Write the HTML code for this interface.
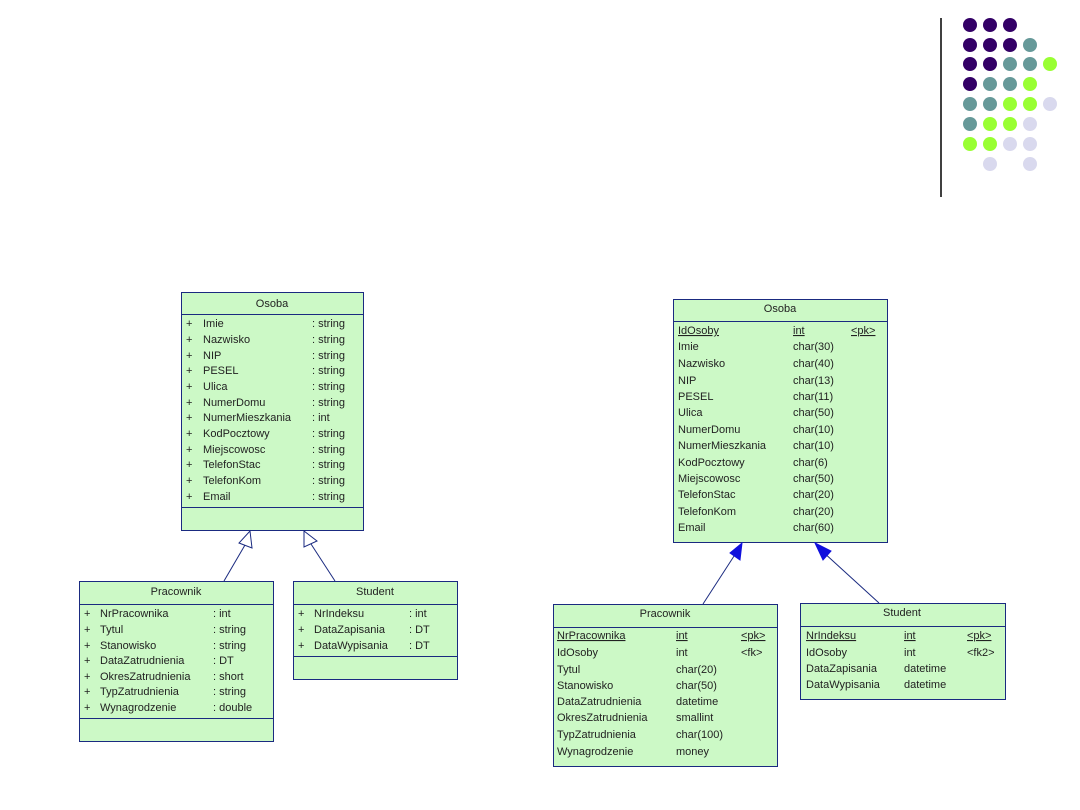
<!DOCTYPE html>
<html><head><meta charset="utf-8"><style>
html,body{margin:0;padding:0;background:#fff;}
svg{display:block;}
text{font-family:"Liberation Sans",sans-serif;font-size:11px;fill:#222;}
</style></head><body>
<svg width="1080" height="810" viewBox="0 0 1080 810" xmlns="http://www.w3.org/2000/svg">
<rect width="1080" height="810" fill="#fff"/>
<line x1="941" y1="18" x2="941" y2="197" stroke="#000" stroke-width="1.5"/>
<g>
<circle cx="970" cy="25" r="7" fill="#330066"/><circle cx="990" cy="25" r="7" fill="#330066"/><circle cx="1010" cy="25" r="7" fill="#330066"/>
<circle cx="970" cy="45" r="7" fill="#330066"/><circle cx="990" cy="45" r="7" fill="#330066"/><circle cx="1010" cy="45" r="7" fill="#330066"/><circle cx="1030" cy="45" r="7" fill="#669999"/>
<circle cx="970" cy="64" r="7" fill="#330066"/><circle cx="990" cy="64" r="7" fill="#330066"/><circle cx="1010" cy="64" r="7" fill="#669999"/><circle cx="1030" cy="64" r="7" fill="#669999"/><circle cx="1050" cy="64" r="7" fill="#99ff33"/>
<circle cx="970" cy="84" r="7" fill="#330066"/><circle cx="990" cy="84" r="7" fill="#669999"/><circle cx="1010" cy="84" r="7" fill="#669999"/><circle cx="1030" cy="84" r="7" fill="#99ff33"/>
<circle cx="970" cy="104" r="7" fill="#669999"/><circle cx="990" cy="104" r="7" fill="#669999"/><circle cx="1010" cy="104" r="7" fill="#99ff33"/><circle cx="1030" cy="104" r="7" fill="#99ff33"/><circle cx="1050" cy="104" r="7" fill="#d9d9ee"/>
<circle cx="970" cy="124" r="7" fill="#669999"/><circle cx="990" cy="124" r="7" fill="#99ff33"/><circle cx="1010" cy="124" r="7" fill="#99ff33"/><circle cx="1030" cy="124" r="7" fill="#d9d9ee"/>
<circle cx="970" cy="144" r="7" fill="#99ff33"/><circle cx="990" cy="144" r="7" fill="#99ff33"/><circle cx="1010" cy="144" r="7" fill="#d9d9ee"/><circle cx="1030" cy="144" r="7" fill="#d9d9ee"/>
<circle cx="990" cy="164" r="7" fill="#d9d9ee"/><circle cx="1030" cy="164" r="7" fill="#d9d9ee"/>
</g>

<g stroke="#1a2a80" stroke-width="1" fill="#ccf9c6">
<!-- left -->
<rect x="181.5" y="292.5" width="182" height="238"/>
<line x1="181" y1="314.5" x2="364" y2="314.5"/><line x1="181" y1="507.5" x2="364" y2="507.5"/>
<rect x="79.5" y="581.5" width="194" height="160"/>
<line x1="79" y1="604.5" x2="274" y2="604.5"/><line x1="79" y1="718.5" x2="274" y2="718.5"/>
<rect x="293.5" y="581.5" width="164" height="98"/>
<line x1="293" y1="604.5" x2="458" y2="604.5"/><line x1="293" y1="656.5" x2="458" y2="656.5"/>
<!-- right -->
<rect x="673.5" y="299.5" width="214" height="243"/>
<line x1="673" y1="321.5" x2="888" y2="321.5"/>
<rect x="553.5" y="604.5" width="224" height="162"/>
<line x1="553" y1="627.5" x2="778" y2="627.5"/>
<rect x="800.5" y="603.5" width="205" height="96"/>
<line x1="800" y1="626.5" x2="1006" y2="626.5"/>
</g>

<g stroke="#1a2a80" stroke-width="1" fill="#fff">
<line x1="224" y1="581" x2="245" y2="545"/>
<polygon points="250,531 252,548 239,543"/>
<line x1="335" y1="581" x2="311" y2="544"/>
<polygon points="304,531 317,541 304,547"/>
<line x1="703" y1="604" x2="736" y2="553"/>
<line x1="879" y1="603" x2="822" y2="551"/>
</g>
<g fill="#1010dd" stroke="#1010dd">
<polygon points="742,543 740,560 730,553"/>
<polygon points="815,543 831,551 823,560"/>
</g>

<!-- left Osoba -->
<text x="272" y="307" text-anchor="middle">Osoba</text>
<g>
<text x="186" y="327">+</text><text x="203" y="327">Imie</text><text x="312" y="327">: string</text>
<text x="186" y="343">+</text><text x="203" y="343">Nazwisko</text><text x="312" y="343">: string</text>
<text x="186" y="359">+</text><text x="203" y="359">NIP</text><text x="312" y="359">: string</text>
<text x="186" y="374">+</text><text x="203" y="374">PESEL</text><text x="312" y="374">: string</text>
<text x="186" y="390">+</text><text x="203" y="390">Ulica</text><text x="312" y="390">: string</text>
<text x="186" y="406">+</text><text x="203" y="406">NumerDomu</text><text x="312" y="406">: string</text>
<text x="186" y="421">+</text><text x="203" y="421">NumerMieszkania</text><text x="312" y="421">: int</text>
<text x="186" y="437">+</text><text x="203" y="437">KodPocztowy</text><text x="312" y="437">: string</text>
<text x="186" y="453">+</text><text x="203" y="453">Miejscowosc</text><text x="312" y="453">: string</text>
<text x="186" y="468">+</text><text x="203" y="468">TelefonStac</text><text x="312" y="468">: string</text>
<text x="186" y="484">+</text><text x="203" y="484">TelefonKom</text><text x="312" y="484">: string</text>
<text x="186" y="500">+</text><text x="203" y="500">Email</text><text x="312" y="500">: string</text>
</g>
<!-- left Pracownik -->
<text x="176" y="595" text-anchor="middle">Pracownik</text>
<text x="84" y="617">+</text><text x="100" y="617">NrPracownika</text><text x="213" y="617">: int</text>
<text x="84" y="633">+</text><text x="100" y="633">Tytul</text><text x="213" y="633">: string</text>
<text x="84" y="649">+</text><text x="100" y="649">Stanowisko</text><text x="213" y="649">: string</text>
<text x="84" y="664">+</text><text x="100" y="664">DataZatrudnienia</text><text x="213" y="664">: DT</text>
<text x="84" y="680">+</text><text x="100" y="680">OkresZatrudnienia</text><text x="213" y="680">: short</text>
<text x="84" y="695">+</text><text x="100" y="695">TypZatrudnienia</text><text x="213" y="695">: string</text>
<text x="84" y="711">+</text><text x="100" y="711">Wynagrodzenie</text><text x="213" y="711">: double</text>
<!-- left Student -->
<text x="375" y="595" text-anchor="middle">Student</text>
<text x="298" y="617">+</text><text x="314" y="617">NrIndeksu</text><text x="409" y="617">: int</text>
<text x="298" y="633">+</text><text x="314" y="633">DataZapisania</text><text x="409" y="633">: DT</text>
<text x="298" y="649">+</text><text x="314" y="649">DataWypisania</text><text x="409" y="649">: DT</text>

<!-- right Osoba -->
<text x="780" y="312" text-anchor="middle">Osoba</text>
<text x="678" y="334" text-decoration="underline">IdOsoby</text><text x="793" y="334" text-decoration="underline">int</text><text x="851" y="334" text-decoration="underline">&lt;pk&gt;</text>
<text x="678" y="350">Imie</text><text x="793" y="350">char(30)</text>
<text x="678" y="367">Nazwisko</text><text x="793" y="367">char(40)</text>
<text x="678" y="384">NIP</text><text x="793" y="384">char(13)</text>
<text x="678" y="400">PESEL</text><text x="793" y="400">char(11)</text>
<text x="678" y="416">Ulica</text><text x="793" y="416">char(50)</text>
<text x="678" y="433">NumerDomu</text><text x="793" y="433">char(10)</text>
<text x="678" y="449">NumerMieszkania</text><text x="793" y="449">char(10)</text>
<text x="678" y="466">KodPocztowy</text><text x="793" y="466">char(6)</text>
<text x="678" y="482">Miejscowosc</text><text x="793" y="482">char(50)</text>
<text x="678" y="498">TelefonStac</text><text x="793" y="498">char(20)</text>
<text x="678" y="515">TelefonKom</text><text x="793" y="515">char(20)</text>
<text x="678" y="531">Email</text><text x="793" y="531">char(60)</text>
<!-- right Pracownik -->
<text x="665" y="617" text-anchor="middle">Pracownik</text>
<text x="557" y="639" text-decoration="underline">NrPracownika</text><text x="676" y="639" text-decoration="underline">int</text><text x="741" y="639" text-decoration="underline">&lt;pk&gt;</text>
<text x="557" y="656">IdOsoby</text><text x="676" y="656">int</text><text x="741" y="656">&lt;fk&gt;</text>
<text x="557" y="673">Tytul</text><text x="676" y="673">char(20)</text>
<text x="557" y="689">Stanowisko</text><text x="676" y="689">char(50)</text>
<text x="557" y="705">DataZatrudnienia</text><text x="676" y="705">datetime</text>
<text x="557" y="721">OkresZatrudnienia</text><text x="676" y="721">smallint</text>
<text x="557" y="738">TypZatrudnienia</text><text x="676" y="738">char(100)</text>
<text x="557" y="755">Wynagrodzenie</text><text x="676" y="755">money</text>
<!-- right Student -->
<text x="902" y="616" text-anchor="middle">Student</text>
<text x="806" y="639" text-decoration="underline">NrIndeksu</text><text x="904" y="639" text-decoration="underline">int</text><text x="967" y="639" text-decoration="underline">&lt;pk&gt;</text>
<text x="806" y="656">IdOsoby</text><text x="904" y="656">int</text><text x="967" y="656">&lt;fk2&gt;</text>
<text x="806" y="672">DataZapisania</text><text x="904" y="672">datetime</text>
<text x="806" y="688">DataWypisania</text><text x="904" y="688">datetime</text>
</svg>
</body></html>
